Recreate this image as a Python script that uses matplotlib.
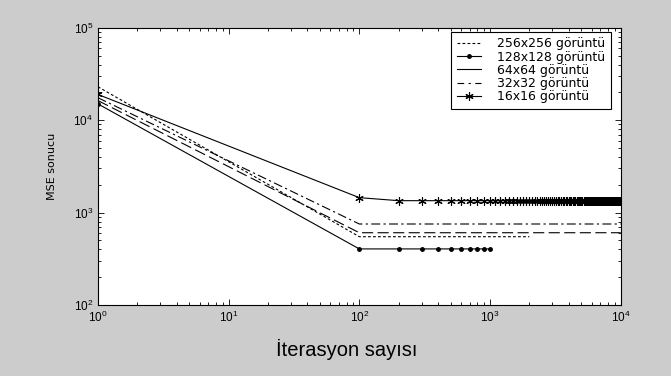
import numpy as np
import matplotlib
matplotlib.use('Agg')
import matplotlib.pyplot as plt
from matplotlib.lines import Line2D

plt.rcParams['font.family'] = ['Liberation Sans', 'DejaVu Sans']
plt.rcParams['mathtext.default'] = 'regular'

# values
iter_grid = np.arange(100, 10001, 100)

x256 = [1, 100, 2000]
y256 = [23000, 548, 548]

x128 = [1, 100, 200, 300, 400, 500, 600, 700, 800, 900, 1000]
y128 = [15000, 404, 404, 404, 404, 404, 404, 404, 404, 404, 404]

x64 = [1, 100, 10000]
y64 = [16300, 605, 605]

x32 = [1, 100, 10000]
y32 = [17500, 752, 752]

x16 = np.concatenate([[1], iter_grid])
y16 = np.concatenate([[19000, 1450], np.full(len(iter_grid) - 1, 1345)])

labels = ['256x256 görüntü', '128x128 görüntü', '64x64 görüntü',
          '32x32 görüntü', '16x16 görüntü']

fig = plt.figure(figsize=(6.71, 3.76), dpi=100, facecolor='#cccccc')
ax = fig.add_axes([0.146, 0.189, 0.779, 0.737])
ax.set_facecolor('white')

lw = 0.8
ast = (6, 2, 0)
ax.plot(x256, y256, color='k', lw=lw, dashes=(2.5, 2))
ax.plot(x128, y128, color='k', lw=lw, marker='o', ms=2.5)
ax.plot(x64, y64, color='k', lw=lw, dashes=(10, 4))
ax.plot(x32, y32, color='k', lw=lw, dashes=(8, 3, 2, 3))
ax.plot(x16, y16, color='k', lw=lw, marker=ast, ms=6, mew=0.8)

ax.set_xscale('log')
ax.set_yscale('log')
ax.set_xlim(1, 1e4)
ax.set_ylim(1e2, 1e5)

ax.tick_params(which='both', direction='in', top=True, right=True,
               labelsize=8.5, colors='k')
ax.tick_params(which='major', length=4, width=0.6)
ax.tick_params(which='minor', length=2, width=0.6)
for s in ax.spines.values():
    s.set_linewidth(0.8)

ax.set_ylabel('MSE sonucu', fontsize=8, family='DejaVu Sans')
ax.yaxis.set_label_coords(-0.078, 0.5)
ax.set_xlabel('İterasyon sayısı', fontsize=14.5)
ax.xaxis.set_label_coords(0.475, -0.122)

handles = [
    Line2D([], [], color='k', lw=lw, dashes=(2.5, 2)),
    Line2D([], [], color='k', lw=lw, marker='o', ms=2.5),
    Line2D([], [], color='k', lw=lw),
    Line2D([], [], color='k', lw=lw, dashes=(6, 4, 2, 4)),
    Line2D([], [], color='k', lw=lw, marker=ast, ms=6, mew=0.8),
]
leg = ax.legend(handles, labels, loc='upper right',
                bbox_to_anchor=(0.981, 0.986), borderaxespad=0,
                prop={'family': 'DejaVu Sans', 'size': 9},
                frameon=True, fancybox=False, edgecolor='k', framealpha=1,
                borderpad=0.45, labelspacing=0.02, handlelength=1.9,
                handletextpad=1.3)
leg.get_frame().set_linewidth(0.8)

fig.savefig('out.png', dpi=100, facecolor=fig.get_facecolor())
